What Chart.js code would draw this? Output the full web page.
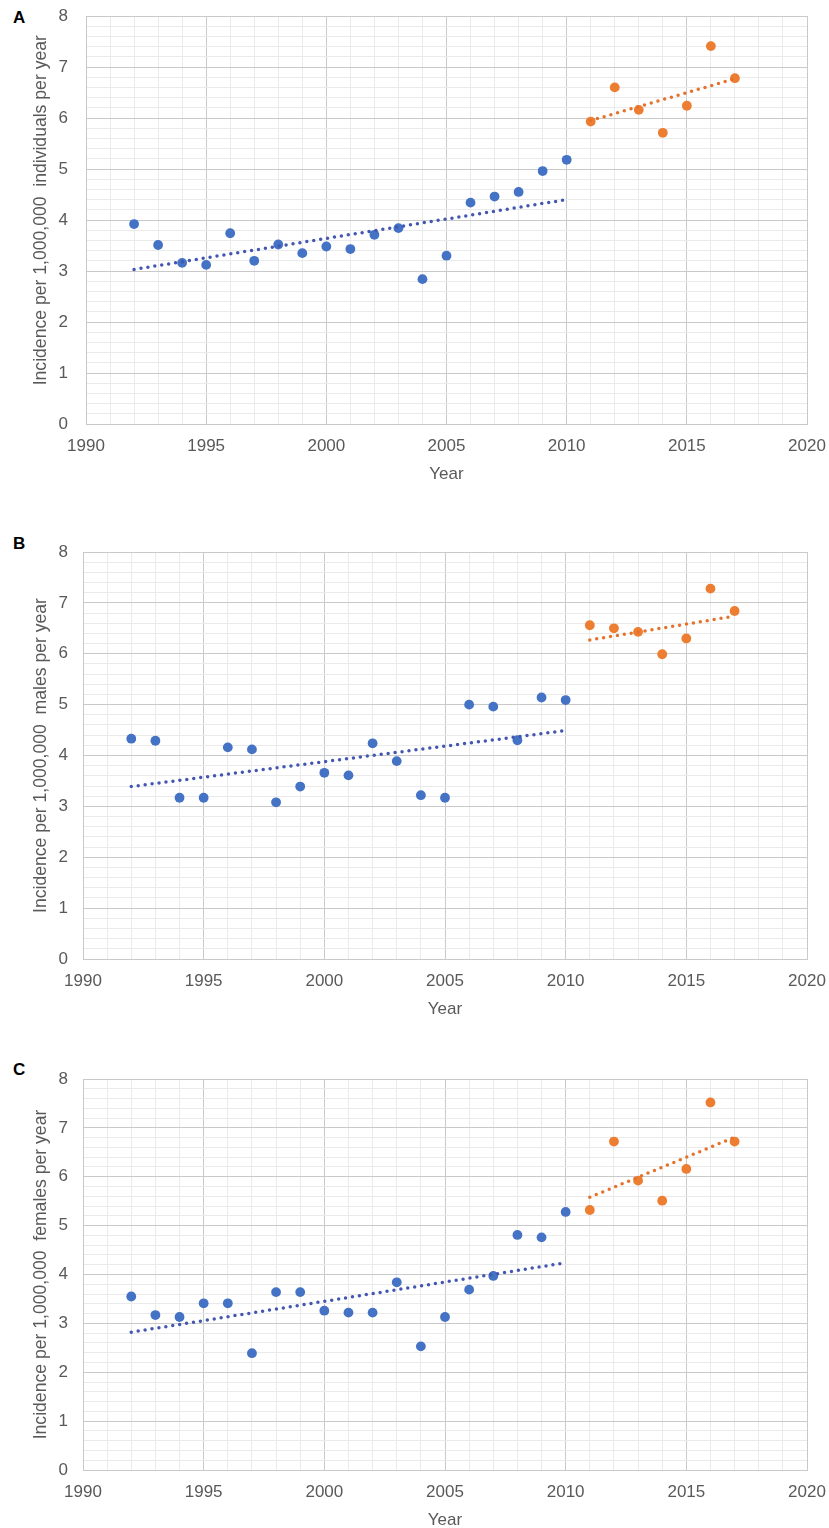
<!DOCTYPE html>
<html>
<head>
<meta charset="utf-8">
<script src="https://cdn.jsdelivr.net/npm/chart.js@4.4.1/dist/chart.umd.min.js"></script>
<style>
  html, body { margin: 0; padding: 0; background: #fff; width: 829px; height: 1528px; overflow: hidden; }
  .panel { position: absolute; left: 0; }
  .tag { position: absolute; left: 13px; line-height: 20px; font: bold 17px "Liberation Sans", Arial, sans-serif; color: #000; }
</style>
</head>
<body>
<div class="tag" style="top:8px">A</div>
<div class="tag" style="top:534px">B</div>
<div class="tag" style="top:1060px">C</div>
<canvas id="chart-a" class="panel" width="829" height="486" style="top:0px"></canvas>
<canvas id="chart-b" class="panel" width="829" height="485" style="top:536px"></canvas>
<canvas id="chart-c" class="panel" width="829" height="469" style="top:1063px"></canvas>
<script>
// years and read values
var yearsEarly = [1992, 1993, 1994, 1995, 1996, 1997, 1998, 1999, 2000, 2001,
  2002, 2003, 2004, 2005, 2006, 2007, 2008, 2009, 2010];
var yearsLate = [2011, 2012, 2013, 2014, 2015, 2016, 2017];
var trendYearsEarly = [1992, 2010];
var trendYearsLate = [2011, 2017];

var xTickLabels = [1990, 1995, 2000, 2005, 2010, 2015, 2020];
var yTickLabels = [0, 1, 2, 3, 4, 5, 6, 7, 8];

// A: individuals
var allEarly = [3.92, 3.51, 3.16, 3.12, 3.74, 3.20, 3.52, 3.35, 3.48, 3.43,
  3.71, 3.84, 2.84, 3.30, 4.34, 4.46, 4.55, 4.96, 5.18];
var allLate = [5.93, 6.60, 6.16, 5.71, 6.24, 7.41, 6.78];
var allTrendEarly = [3.03, 4.40];
var allTrendLate = [5.95, 6.77];

// B: males
var malesEarly = [4.33, 4.29, 3.17, 3.17, 4.16, 4.12, 3.08, 3.39, 3.66, 3.61,
  4.24, 3.89, 3.22, 3.17, 5.00, 4.96, 4.30, 5.14, 5.09];
var malesLate = [6.56, 6.50, 6.43, 5.99, 6.30, 7.28, 6.84];
var malesTrendEarly = [3.39, 4.49];
var malesTrendLate = [6.27, 6.74];

// C: females
var femalesEarly = [3.55, 3.17, 3.13, 3.41, 3.41, 2.39, 3.64, 3.64, 3.26, 3.22,
  3.22, 3.84, 2.53, 3.13, 3.69, 3.97, 4.81, 4.76, 5.28];
var femalesLate = [5.32, 6.72, 5.92, 5.51, 6.16, 7.52, 6.72];
var femalesTrendEarly = [2.82, 4.24];
var femalesTrendLate = [5.58, 6.81];

var FONT = "'Liberation Sans', Arial, sans-serif";
var TEXT = "#595959";
var MAJOR = "#c9c9c9";
var MINOR = "#eaeaea";
var BLUE = "#4472c4";
var ORANGE = "#ed7d31";
var BLUE_TREND = "#4357b2";
var ORANGE_TREND = "#e5722a";

function pts(xs, ys) {
  return xs.map(function (x, i) { return { x: x, y: ys[i] }; });
}

function isInt(v) {
  return Math.abs(v - Math.round(v)) < 1e-6;
}

function trendSet(xs, ys, color) {
  return {
    data: pts(xs, ys),
    showLine: true,
    borderColor: color,
    borderWidth: 3.5,
    borderDash: [0, 7],
    borderCapStyle: "round",
    pointRadius: 0,
    fill: false,
    order: 0,
  };
}

function pointSet(xs, ys, color) {
  return {
    data: pts(xs, ys),
    backgroundColor: color,
    borderWidth: 0,
    pointRadius: 4.9,
    order: 1,
  };
}

function makePanel(id, plotLeft, title, early, late, trendEarly, trendLate) {
  var el = document.getElementById(id);
  return new Chart(el, {
    type: "scatter",
    data: {
      datasets: [
        trendSet(trendYearsEarly, trendEarly, BLUE_TREND),
        trendSet(trendYearsLate, trendLate, ORANGE_TREND),
        pointSet(yearsEarly, early, BLUE),
        pointSet(yearsLate, late, ORANGE),
      ],
    },
    options: {
      responsive: false,
      animation: false,
      events: [],
      layout: { padding: { top: 16, right: 22, bottom: 0, left: 0 } },
      plugins: { legend: { display: false }, tooltip: { enabled: false } },
      scales: {
        x: {
          type: "linear",
          min: 1990,
          max: 2020,
          afterFit: function (s) { s.height = 62; },
          ticks: {
            stepSize: 1,
            autoSkip: false,
            maxRotation: 0,
            padding: 0,
            color: TEXT,
            font: { family: FONT, size: 17 },
            callback: function (v) { return xTickLabels.indexOf(v) >= 0 ? String(v) : ""; },
          },
          grid: {
            drawTicks: true,
            tickLength: 12,
            tickColor: "rgba(0,0,0,0)",
            color: function (ctx) { return xTickLabels.indexOf(ctx.tick.value) >= 0 ? MAJOR : MINOR; },
          },
          border: { color: MAJOR },
          title: {
            display: true,
            text: "Year",
            color: TEXT,
            font: { family: FONT, size: 17 },
            padding: { top: 0, bottom: 1 },
          },
        },
        y: {
          type: "linear",
          min: 0,
          max: 8,
          afterFit: function (s) { s.width = plotLeft; },
          ticks: {
            stepSize: 0.2,
            maxTicksLimit: 100,
            autoSkip: false,
            padding: 0,
            color: TEXT,
            font: { family: FONT, size: 17 },
            callback: function (v) { return isInt(v) && yTickLabels.indexOf(Math.round(v)) >= 0 ? String(Math.round(v)) : ""; },
          },
          grid: {
            drawTicks: true,
            tickLength: plotLeft - 68,
            tickColor: "rgba(0,0,0,0)",
            color: function (ctx) { return isInt(ctx.tick.value) ? MAJOR : MINOR; },
          },
          border: { color: MAJOR },
          title: {
            display: true,
            text: title,
            color: TEXT,
            font: { family: FONT, size: 17.6 },
            padding: { top: 31, bottom: 0 },
          },
        },
      },
    },
  });
}

// panel A's axis title sits a little above the plot centre in the original
makePanel("chart-a", 86, "    Incidence per 1,000,000  individuals per year",
  allEarly, allLate, allTrendEarly, allTrendLate);
makePanel("chart-b", 83, "Incidence per 1,000,000  males per year",
  malesEarly, malesLate, malesTrendEarly, malesTrendLate);
makePanel("chart-c", 83, "Incidence per 1,000,000  females per year",
  femalesEarly, femalesLate, femalesTrendEarly, femalesTrendLate);
</script>
</body>
</html>
